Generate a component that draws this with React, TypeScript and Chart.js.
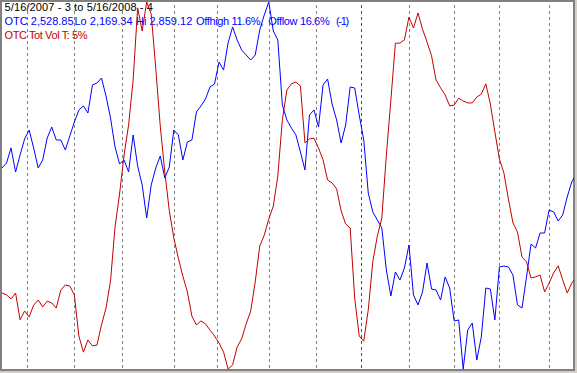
import React, { useEffect, useRef } from "react";
import { Chart, registerables } from "chart.js";

Chart.register(...registerables);

// Trading-day index (0 = 5/16/2007, 253 = 5/16/2008), sampled every two sessions plus the last one
const sampleDays: number[] = [];
for (let d = 0; d <= 252; d += 2) sampleDays.push(d);
sampleDays.push(253);

// OTC (Nasdaq composite) close
const otcClose = [
  2547.1, 2556.5, 2584.7, 2539.6, 2571.6, 2601.6, 2618.6, 2584.7, 2547.1, 2562.2,
  2603.5, 2624.2, 2599.8, 2599.8, 2581.0, 2607.3, 2633.6, 2656.2, 2663.7, 2650.5,
  2703.1, 2706.9, 2716.3, 2682.5, 2641.1, 2586.6, 2554.7, 2562.2, 2539.6, 2609.2,
  2550.9, 2515.2, 2453.2, 2515.2, 2547.1, 2569.7, 2528.3, 2549.0, 2618.6, 2609.2,
  2562.2, 2596.0, 2599.8, 2652.4, 2663.7, 2676.8, 2699.4, 2705.0, 2746.4, 2731.3,
  2782.1, 2812.2, 2787.7, 2768.9, 2759.5, 2750.1, 2759.5, 2806.5, 2834.7, 2859.12,
  2804.6, 2787.7, 2665.6, 2637.4, 2622.3, 2609.2, 2577.2, 2543.4, 2646.8, 2656.2,
  2624.2, 2703.1, 2714.4, 2667.4, 2637.4, 2594.1, 2628.0, 2699.4, 2697.5, 2646.8,
  2599.8, 2500.2, 2464.4, 2449.4, 2434.4, 2355.4, 2306.6, 2351.7, 2336.6, 2359.2,
  2402.4, 2308.4, 2289.7, 2314.1, 2368.6, 2319.7, 2317.8, 2299.0, 2342.3, 2321.6,
  2259.6, 2261.5, 2169.34, 2242.7, 2255.8, 2186.3, 2229.5, 2321.6, 2319.7, 2261.5,
  2361.1, 2362.9, 2361.1, 2346.0, 2289.7, 2284.0, 2342.3, 2404.3, 2396.8, 2425.0,
  2425.0, 2468.2, 2464.4, 2447.5, 2458.8, 2492.6, 2520.8, 2528.85,
];

// OTC total volume indicator (T: 5%), normalised 0..100
const otcTotVol = [
  20.7, 20.2, 19.1, 20.7, 13.4, 15.8, 14.2, 17.4, 18.8, 16.9,
  18.5, 18.0, 16.6, 21.5, 22.9, 22.6, 20.2, 9.0, 4.6, 7.9,
  6.3, 6.5, 12.0, 16.6, 24.0, 38.7, 47.7, 58.3, 66.5, 78.7,
  98.4, 92.1, 100, 96.7, 82.0, 66.2, 53.7, 43.1, 35.7, 30.2,
  25.3, 21.0, 14.4, 12.0, 13.1, 12.3, 10.6, 9.0, 7.1, 4.6,
  0, 1.1, 6.0, 8.2, 12.3, 15.8, 23.7, 33.5, 36.5, 40.9,
  44.4, 52.6, 67.9, 76.0, 77.7, 78.2, 77.1, 61.6, 62.7, 62.9,
  60.2, 57.0, 51.5, 50.7, 49.1, 43.1, 39.5, 38.4, 19.3, 9.0,
  7.6, 16.1, 29.2, 36.2, 41.1, 58.3, 73.3, 88.8, 88.8, 89.7,
  95.9, 92.9, 97.0, 92.6, 89.1, 85.3, 78.7, 76.6, 74.7, 71.7,
  71.9, 73.8, 73.0, 72.5, 72.5, 74.1, 74.9, 77.7, 72.2, 64.6,
  57.2, 53.4, 46.3, 39.8, 37.3, 30.5, 29.2, 24.8, 25.1, 25.6,
  21.0, 23.4, 26.2, 28.1, 24.3, 20.7, 23.4, 24.3,
];

// First trading day of each month (Jun 2007 .. May 2008); 159 = first session of 2008
const monthStarts = [11, 32, 53, 76, 95, 118, 139, 159, 180, 200, 220, 242];
const yearStart = 159;

const titleLine = "5/16/2007 - 3 to 5/16/2008 - 4";
const otcSegments = ["OTC 2,528.85", "Lo 2,169.34", "Hi 2,859.12", "Offhigh 11.6%,", "Offlow 16.6%", "(-1)"];
const volLine = "OTC Tot Vol T: 5%";
const otcLo = 2169.34;
const otcHi = 2859.12;

const monthLines = {
  id: "monthLines",
  beforeDatasetsDraw(chart: any) {
    const { ctx, chartArea, scales } = chart;
    ctx.save();
    ctx.lineWidth = 1;
    ctx.setLineDash([3, 3]);
    for (const d of monthStarts) {
      const x = Math.round(scales.x.getPixelForValue(d)) + 0.5;
      ctx.strokeStyle = d === yearStart ? "#ff0000" : "#808080";
      ctx.beginPath();
      ctx.moveTo(x, chartArea.top + 3);
      ctx.lineTo(x, chartArea.bottom);
      ctx.stroke();
    }
    ctx.restore();
  },
};

// left offsets of the header pieces (layout only)
const segLeft = [4.5, 74.5, 136, 196, 268.3, 336];

export default function App() {
  const ref = useRef<HTMLCanvasElement>(null);

  useEffect(() => {
    const chart = new Chart(ref.current!, {
      type: "line",
      data: {
        datasets: [
          {
            label: "OTC Tot Vol",
            data: sampleDays.map((d, i) => ({ x: d, y: otcTotVol[i] })),
            yAxisID: "yVol",
            borderColor: "#c00000",
            borderWidth: 1,
            pointRadius: 0,
            tension: 0,
            order: 0,
          },
          {
            label: "OTC",
            data: sampleDays.map((d, i) => ({ x: d, y: otcClose[i] })),
            yAxisID: "yOtc",
            borderColor: "#0000ff",
            borderWidth: 1,
            pointRadius: 0,
            tension: 0,
            order: 1,
          },
        ],
      },
      options: {
        animation: false,
        responsive: false,
        maintainAspectRatio: false,
        layout: { padding: { left: 2, top: 2, right: 3, bottom: 4 } },
        plugins: { legend: { display: false }, tooltip: { enabled: false } },
        scales: {
          x: { type: "linear", min: 0, max: 253, display: false },
          yOtc: { type: "linear", min: otcLo, max: otcHi, display: false },
          yVol: { type: "linear", min: 0, max: 100, display: false },
        },
      },
      plugins: [monthLines],
    });
    return () => chart.destroy();
  }, []);

  const textStyle: React.CSSProperties = {
    position: "absolute",
    font: "11px 'Liberation Sans', Arial, sans-serif",
    lineHeight: "14px",
    whiteSpace: "pre",
  };

  return (
    <div
      style={{
        position: "fixed",
        left: 0,
        top: 0,
        width: 577,
        height: 373,
        background: "#d4d0c8",
        overflow: "hidden",
      }}
    >
      <div
        style={{
          position: "absolute",
          left: 0,
          top: 0,
          width: 575,
          height: 371,
          boxSizing: "border-box",
          border: "2px solid #808080",
          background: "#ffffff",
        }}
      />
      <div style={{ ...textStyle, left: 4.5, top: 0, color: "#000000", letterSpacing: "0.12px" }}>
        {titleLine}
      </div>
      {otcSegments.map((s, i) => (
        <div
          key={s}
          style={{
            ...textStyle,
            left: segLeft[i],
            top: 14,
            color: "#0000ff",
            letterSpacing: i >= 3 ? (i === 5 ? "-1.3px" : "-0.35px") : "0px",
          }}
        >
          {s}
        </div>
      ))}
      <div style={{ ...textStyle, left: 4.5, top: 28, color: "#c00000", letterSpacing: "-0.4px" }}>
        {volLine}
      </div>
      <canvas
        ref={ref}
        width={577}
        height={373}
        style={{ position: "absolute", left: 0, top: 0, width: 577, height: 373 }}
      />
    </div>
  );
}
